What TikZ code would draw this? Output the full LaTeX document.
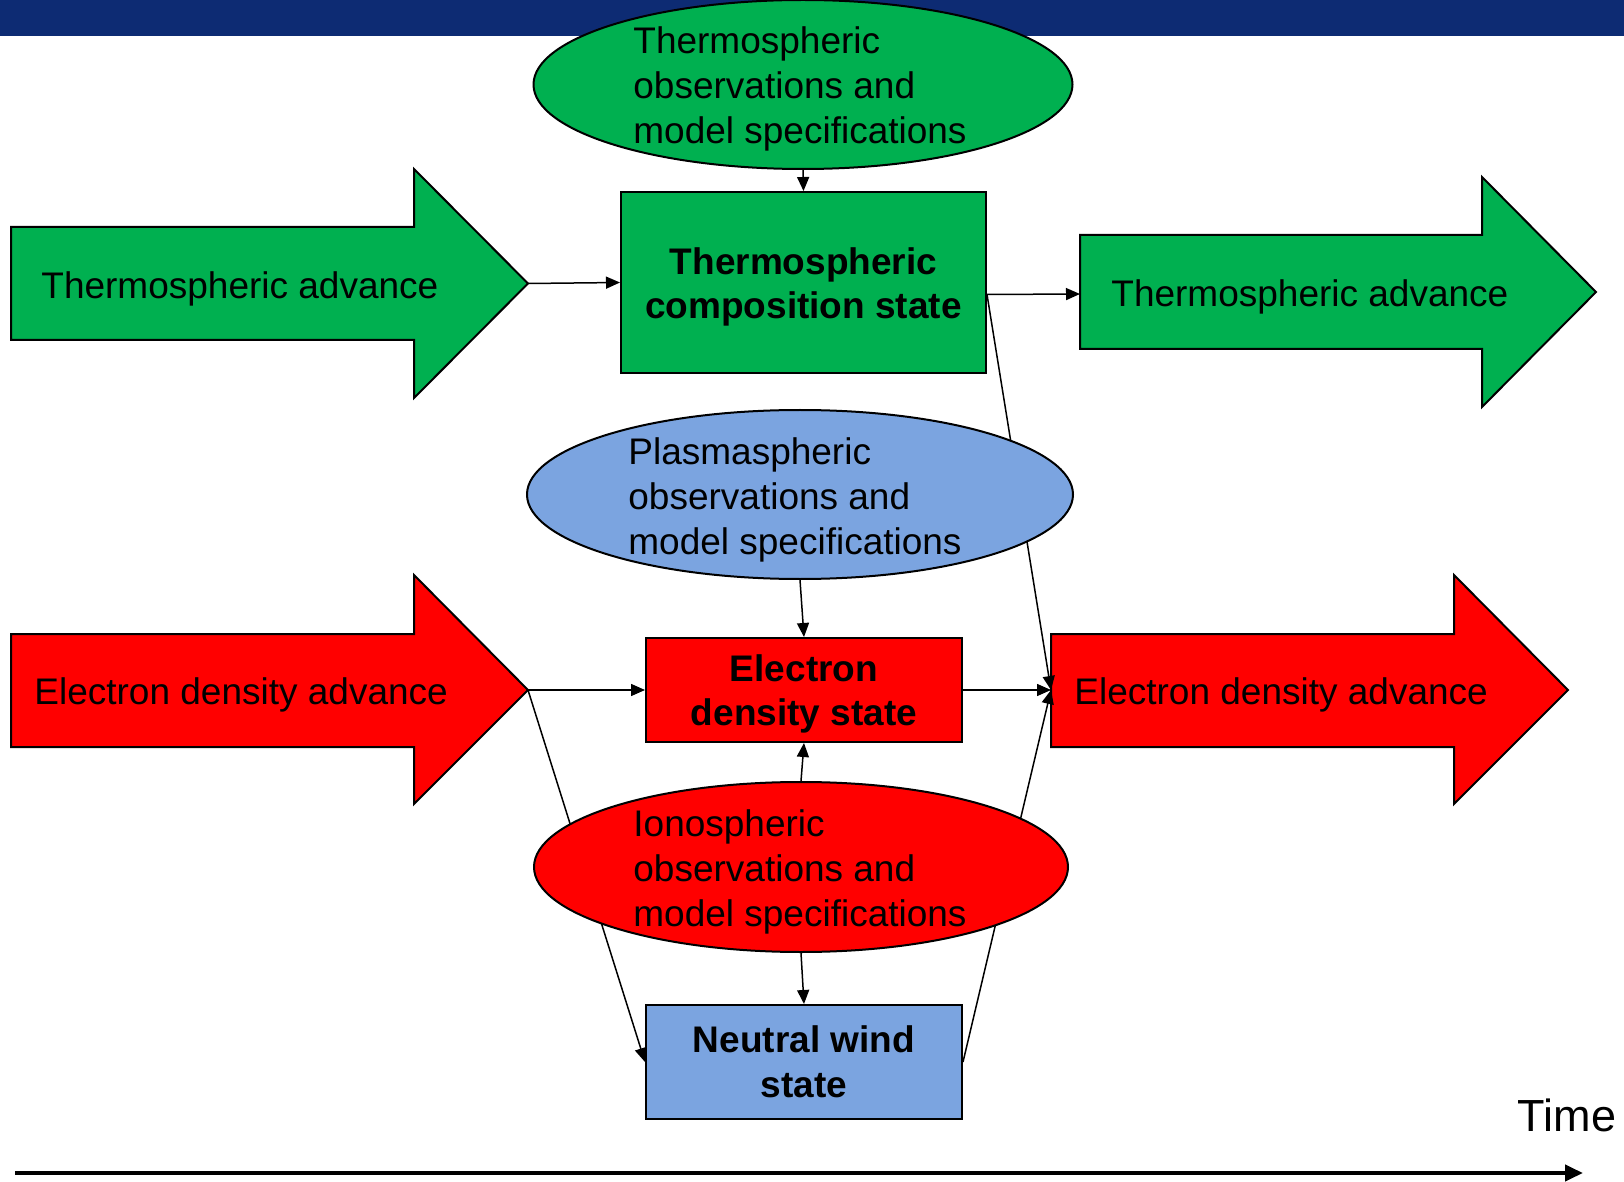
\documentclass[tikz,border=0pt]{standalone}
\usepackage{fontspec}
\setmainfont{Liberation Sans}
\usetikzlibrary{shapes.geometric,arrows.meta}
\definecolor{pgreen}{HTML}{00B050}
\definecolor{pred}{HTML}{FF0000}
\definecolor{pblue}{HTML}{7BA4E0}
\definecolor{navy}{HTML}{0D2B73}
\begin{document}
\begin{tikzpicture}[x=0.5pt,y=-0.5pt,
  conn/.style={line width=0.75pt,-{Triangle[length=7pt,width=6pt]}},
  ell/.style={ellipse,draw=black,line width=1pt,inner sep=0pt},
  ellt/.style={align=left,font=\fontsize{18.5}{22.5}\selectfont,inner sep=0pt},
  statebox/.style={rectangle,draw=black,line width=1pt,inner sep=0pt},
  statet/.style={align=center,inner sep=0pt,font=\fontsize{18.5}{22.3}\selectfont\bfseries},
  bigarrow/.style={draw=black,line width=1pt},
  advt/.style={anchor=west,font=\fontsize{18.5}{22.5}\selectfont,inner sep=0pt}]
\useasboundingbox (0,0) rectangle (1624,1182);
% banner
\fill[navy] (0,0) rectangle (1624,36);
% big arrows
\draw[bigarrow,fill=pgreen] (11,227) -- (414,227) -- (414,169) -- (528,283.5) -- (414,398) -- (414,340) -- (11,340) -- cycle;
\coordinate (lgtip) at (528,283.5);
\node[advt] (lgt) at (41,289) {Thermospheric advance};
\draw[bigarrow,fill=pgreen] (1080,235) -- (1482,235) -- (1482,177) -- (1596,292) -- (1482,407) -- (1482,349) -- (1080,349) -- cycle;
\coordinate (rgin) at (1080,294);
\node[advt] (rgt) at (1111,297) {Thermospheric advance};
\draw[bigarrow,fill=pred] (11,634) -- (414,634) -- (414,575) -- (528,690) -- (414,804) -- (414,747) -- (11,747) -- cycle;
\coordinate (lrtip) at (528,690);
\node[advt] (lrt) at (34,695) {Electron density advance};
\draw[bigarrow,fill=pred] (1051,634) -- (1454,634) -- (1454,575) -- (1568,690) -- (1454,804) -- (1454,747) -- (1051,747) -- cycle;
\coordinate (rrin) at (1051,690);
\node[advt] (rrt) at (1074,695) {Electron density advance};
% state boxes
\node[statebox,fill=pgreen,minimum width=182.5pt,minimum height=90.5pt] (tcs) at (803.5,282.5) {};
\node[statet] (tcst) at (803.5,287) {Thermospheric\\composition state};
\node[statebox,fill=pred,minimum width=158pt,minimum height=52pt] (ed) at (804,690) {};
\node[statet] (edt) at (804,694) {Electron\\density state};
\node[statebox,fill=pblue,minimum width=158pt,minimum height=57pt] (nw) at (804,1062) {};
\node[statet] (nwt) at (804,1062) {Neutral wind\\state};
\path (tcs.east) ++(0,12) coordinate (tcsout);
% connectors behind ellipses
\draw[conn] (tcsout) -- (rrin);
\draw[conn] (lrtip) -- (nw.west);
\draw[conn] (nw.east) -- (rrin);
% ellipses
\node[ell,fill=pgreen,minimum width=269.5pt,minimum height=84.5pt] (thobs) at (803,84.5) {};
\node[ellt] (thobst) at (800,89) {Thermospheric\\observations and\\model specifications};
\node[ell,fill=pblue,minimum width=273pt,minimum height=84.5pt] (plobs) at (800,494.5) {};
\node[ellt] (plobst) at (795,500) {Plasmaspheric\\observations and\\model specifications};
\node[ell,fill=pred,minimum width=267pt,minimum height=85pt] (ioobs) at (801,867) {};
\node[ellt] (ioobst) at (800,872) {Ionospheric\\observations and\\model specifications};
% remaining connectors
\draw[conn] (thobs.south) -- (tcs.north);
\draw[conn] (lgtip) -- (tcs.west);
\draw[conn] (tcsout) -- (rgin);
\draw[conn] (plobs.south) -- (ed.north);
\draw[conn] (lrtip) -- (ed.west);
\draw[conn] (ed.east) -- (rrin);
\draw[conn] (ioobs.north) -- (ed.south);
\draw[conn] (ioobs.south) -- (nw.north);
% time axis
\coordinate (t0) at (15,1173);
\coordinate (t1) at (1583,1173);
\draw[line width=2pt,-{Triangle[length=9pt,width=8pt]}] (t0) -- (t1);
\node[font=\fontsize{22.5}{26}\selectfont,inner sep=0pt] (time) at (1567,1115) {Time};
\end{tikzpicture}
\end{document}
